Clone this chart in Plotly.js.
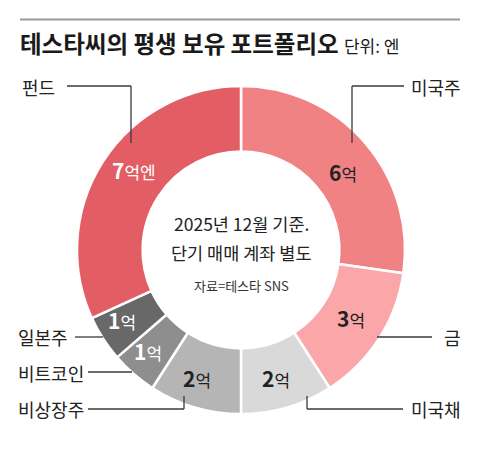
<!DOCTYPE html>
<html>
<head>
<meta charset="utf-8">
<script src="https://cdn.plot.ly/plotly-3.0.1.min.js"></script>
<style>
  html, body { margin: 0; padding: 0; background: #fff; }
  #chart { width: 480px; height: 450px; }
</style>
</head>
<body>
<div id="chart"></div>
<script>
// ---- data ----
const categories = ['미국주', '금', '미국채', '비상장주', '비트코인', '일본주', '펀드'];
const values = [6, 3, 2, 2, 1, 1, 7];
const valueSuffix = ['억', '억', '억', '억', '억', '억', '억엔'];
const colors = ['#F08284', '#FBA6A9', '#D9D9D9', '#B5B5B5', '#8E8E8E', '#686868', '#E25E64'];
const labelColors = ['#222', '#222', '#222', '#222', '#fff', '#fff', '#fff'];

const W = 480, H = 450;
const FONT = '"Noto Sans CJK KR", "Noto Sans", sans-serif';
// pie geometry (pixels)
const CX = 241, CY = 250, R = 164;
const domX = [(CX - R) / W, (CX + R) / W];
const domY = [1 - (CY + R) / H, 1 - (CY - R) / H];
const px = (x) => x / W;
const py = (y) => 1 - y / H;
// small hand nudges of the in-slice labels (pixels)
const labelNudge = [[1, 10], [-3, -4], [-3, -1], [-6, -1], [-5, 0], [-6, -2], [6, -8]];

const total = values.reduce((a, b) => a + b, 0);
const annotations = [];
let cum = 0;
values.forEach((v, i) => {
  const mid = (cum + v / 2) / total * 2 * Math.PI;
  cum += v;
  const r = 134;
  const x = CX + r * Math.sin(mid) + labelNudge[i][0];
  const y = CY - r * Math.cos(mid) + labelNudge[i][1];
  annotations.push({
    x: px(x), y: py(y), xref: 'paper', yref: 'paper', showarrow: false,
    xanchor: 'center', yanchor: 'middle',
    text: '<span style="font-size:21px"><b>' + v + '</b></span>' + valueSuffix[i],
    font: { family: FONT, size: 17, color: labelColors[i] }
  });
});

// category labels (outside) with leader lines
const outside = [
  { t: '미국주', x: 409, y: 87, anchor: 'left', line: [[352, 143], [352, 86], [404, 86]] },
  { t: '금', x: 442, y: 337, anchor: 'left', line: [[377, 337], [432, 337]] },
  { t: '미국채', x: 409, y: 409, anchor: 'left', line: [[307, 396], [307, 409], [403, 409]] },
  { t: '비상장주', x: 86, y: 409, anchor: 'right', line: [[184, 396], [184, 409], [88, 409]] },
  { t: '비트코인', x: 86, y: 373, anchor: 'right', line: [[132, 372], [88, 372]] },
  { t: '일본주', x: 70, y: 337, anchor: 'right', line: [[103, 337], [75, 337]] },
  { t: '펀드', x: 57, y: 87, anchor: 'right', line: [[131, 143], [131, 86], [67, 86]] }
];
const shapes = [
  { type: 'line', xref: 'paper', yref: 'paper', x0: px(20), x1: px(460), y0: py(19.5), y1: py(19.5),
    line: { color: '#9a9a9a', width: 2 } }
];
outside.forEach(o => {
  annotations.push({
    x: px(o.x), y: py(o.y), xref: 'paper', yref: 'paper', showarrow: false,
    xanchor: o.anchor, yanchor: 'middle', text: o.t,
    font: { family: FONT, size: 18, color: '#222' }
  });
  for (let k = 0; k < o.line.length - 1; k++) {
    shapes.push({
      type: 'line', xref: 'paper', yref: 'paper',
      x0: px(o.line[k][0]), y0: py(o.line[k][1]),
      x1: px(o.line[k + 1][0]), y1: py(o.line[k + 1][1]),
      line: { color: '#3a3a3a', width: 1.3 }
    });
  }
});

// center text
annotations.push({
  x: px(CX), y: py(223), xref: 'paper', yref: 'paper', showarrow: false,
  xanchor: 'center', yanchor: 'middle', text: '2025년 12월 기준.',
  font: { family: FONT, size: 17.5, color: '#222' }
});
annotations.push({
  x: px(CX), y: py(253), xref: 'paper', yref: 'paper', showarrow: false,
  xanchor: 'center', yanchor: 'middle', text: '단기 매매 계좌 별도',
  font: { family: FONT, size: 17.5, color: '#222' }
});
annotations.push({
  x: px(CX), y: py(285), xref: 'paper', yref: 'paper', showarrow: false,
  xanchor: 'center', yanchor: 'middle', text: '자료=테스타 SNS',
  font: { family: FONT, size: 13, color: '#333' }
});

const trace = {
  type: 'pie',
  labels: categories,
  values: values,
  sort: false,
  direction: 'clockwise',
  rotation: 0,
  hole: 0.6,
  marker: { colors: colors, line: { color: '#fff', width: 2.5 } },
  textinfo: 'none',
  hoverinfo: 'none',
  showlegend: false,
  domain: { x: domX, y: domY }
};

const layout = {
  width: W, height: H,
  margin: { l: 0, r: 0, t: 0, b: 0 },
  paper_bgcolor: '#fff',
  plot_bgcolor: '#fff',
  showlegend: false,
  title: {
    text: '<b>테스타씨의 평생 보유 포트폴리오</b> <span style="font-size:17px;font-weight:normal">단위: 엔</span>',
    x: px(20), xanchor: 'left', xref: 'paper',
    y: py(45), yanchor: 'middle', yref: 'paper',
    font: { family: FONT, size: 23.5, color: '#1a1a1a' }
  },
  annotations: annotations,
  shapes: shapes
};

Plotly.newPlot('chart', [trace], layout, { staticPlot: true, displayModeBar: false });
</script>
</body>
</html>
